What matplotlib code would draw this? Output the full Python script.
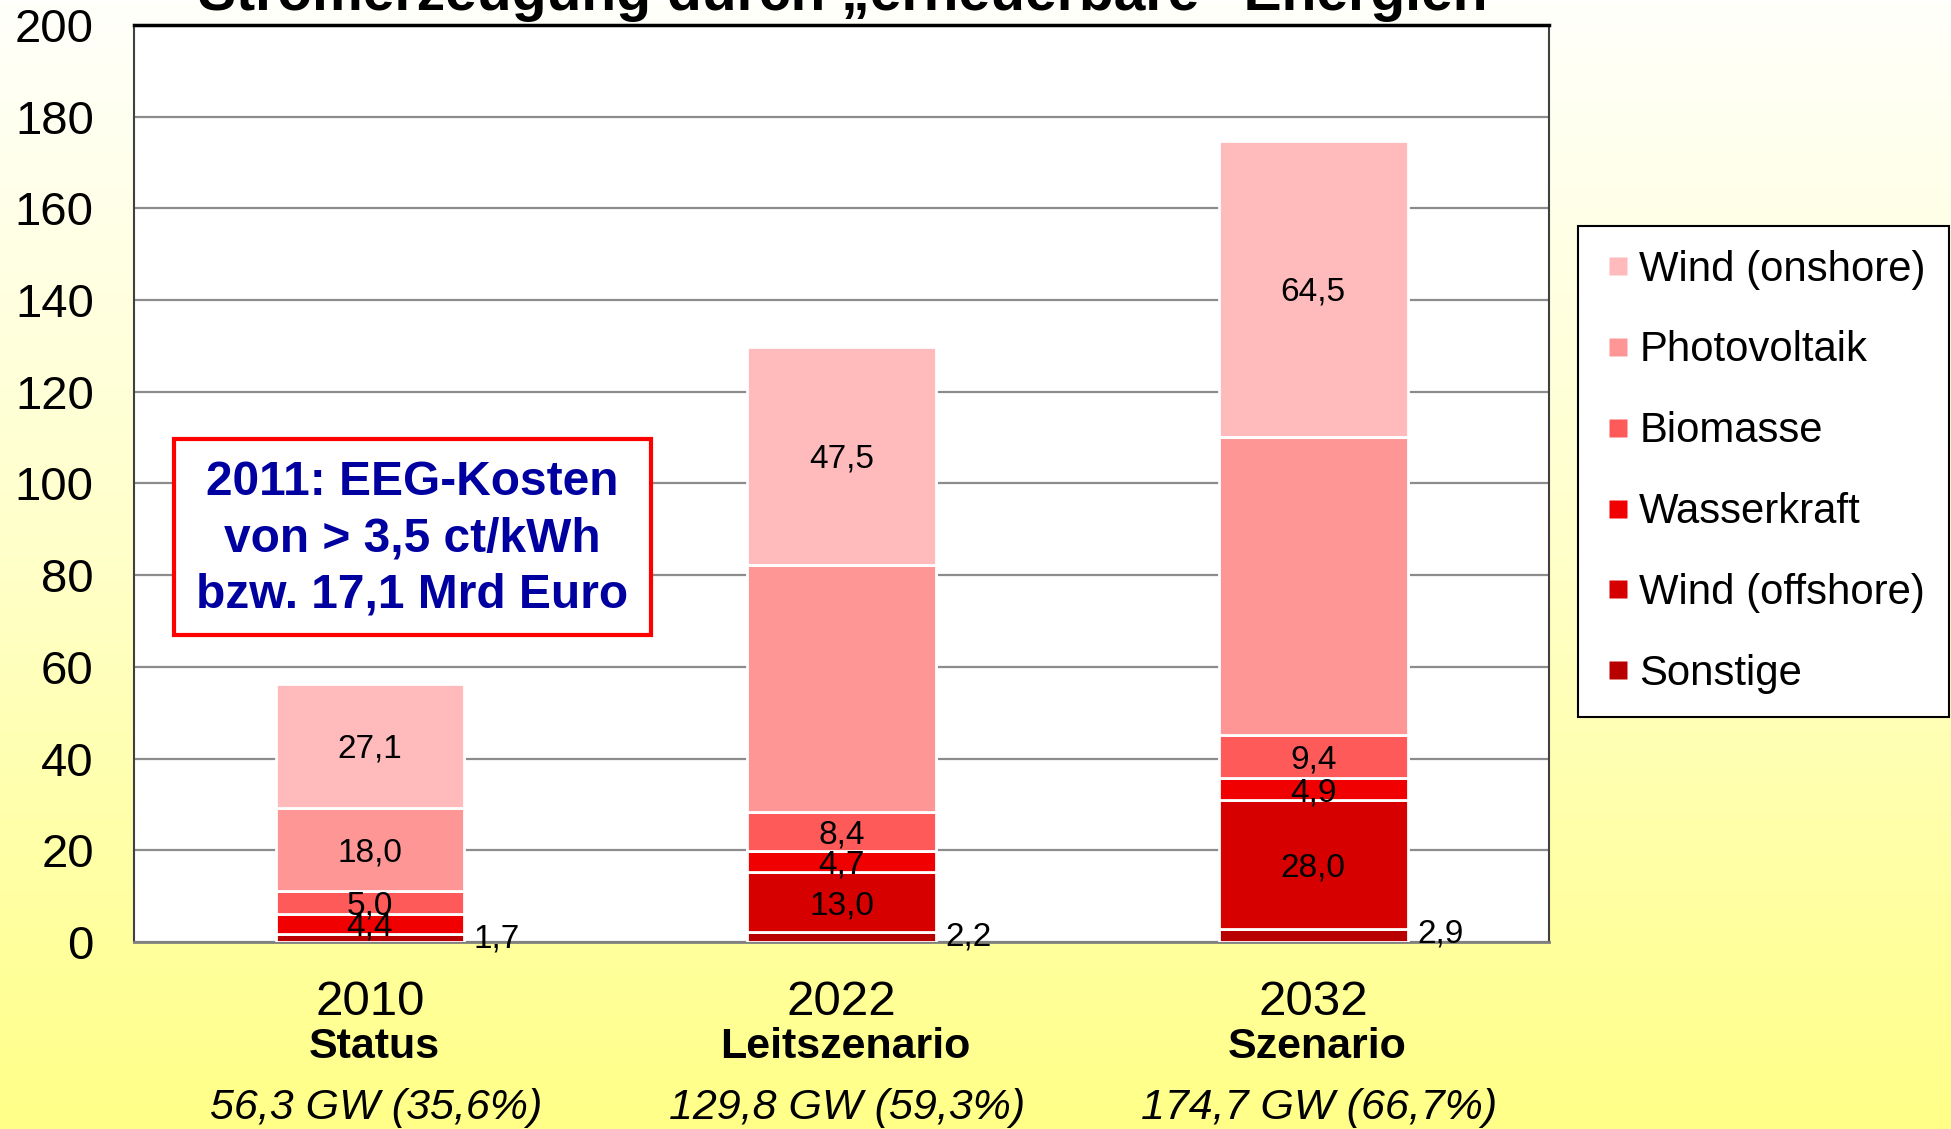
import numpy as np
import matplotlib
matplotlib.use("Agg")
import matplotlib.pyplot as plt
from matplotlib.lines import Line2D
from matplotlib.patches import Rectangle
from matplotlib.colors import LinearSegmentedColormap
import matplotlib.transforms as mtransforms

plt.rcParams['font.family'] = ['Liberation Sans', 'DejaVu Sans']

# ---- data ----
years = ["2010", "2022", "2032"]
scenarios = ["Status", "Leitszenario", "Szenario"]
totals = ["56,3 GW (35,6%)", "129,8 GW (59,3%)", "174,7 GW (66,7%)"]

series = ["Sonstige", "Wind (offshore)", "Wasserkraft", "Biomasse", "Photovoltaik", "Wind (onshore)"]
sonstige = [1.7, 2.2, 2.9]
wind_offshore = [0.1, 13.0, 28.0]
wasserkraft = [4.4, 4.7, 4.9]
biomasse = [5.0, 8.4, 9.4]
photovoltaik = [18.0, 54.0, 65.0]
wind_onshore = [27.1, 47.5, 64.5]
values = [sonstige, wind_offshore, wasserkraft, biomasse, photovoltaik, wind_onshore]
colors = ["#B80000", "#D70000", "#F00000", "#FF5A5A", "#FF9696", "#FFBBBB"]
# which segments get a centered label: series index -> bar indices
labelled = {0: [], 1: [1, 2], 2: [0, 1, 2], 3: [0, 1, 2], 4: [0], 5: [0, 1, 2]}

yticks = [0, 20, 40, 60, 80, 100, 120, 140, 160, 180, 200]

def fmt(v):
    return f"{v:.1f}".replace(".", ",")

fig = plt.figure(figsize=(19.51, 11.29), dpi=100)

# background gradient
bg = fig.add_axes([0, 0, 1, 1], zorder=-10)
cmap = LinearSegmentedColormap.from_list("bgy", ["#FFFFFB", "#FFFFC8", "#FFFF88"])
grad = np.linspace(0, 1, 256).reshape(-1, 1)
bg.imshow(grad, aspect='auto', cmap=cmap, extent=[0, 1, 0, 1], origin='upper')
bg.set_axis_off()

ax = fig.add_axes([0.0687, 0.1656, 0.794 - 0.0687, 0.978 - 0.1656])
ax.set_facecolor("white")
x = np.arange(len(years))
bottom = np.zeros(len(years))
for i, (name, vals, c) in enumerate(zip(series, values, colors)):
    vals = np.array(vals)
    ax.bar(x, vals, width=0.4, bottom=bottom, color=c, edgecolor="white",
           linewidth=2, label=name, zorder=3)
    for j in labelled[i]:
        ax.text(x[j], bottom[j] + vals[j] / 2, fmt(vals[j]), ha='center',
                va='center_baseline', fontsize=24, color='black', zorder=5)
    bottom = bottom + vals

# Sonstige labels to the right of bars
for j in range(len(years)):
    ax.text(x[j] + 0.22, sonstige[j] * 0.85, fmt(sonstige[j]), ha='left',
            va='center_baseline', fontsize=24, color='black', zorder=5)

ax.set_xlim(-0.5, 2.5)
ax.set_ylim(0, 200)
ax.set_yticks(yticks)
ax.set_yticklabels([str(t) for t in yticks], fontsize=34)
ax.tick_params(axis='y', length=0, pad=29)
ax.set_xticks([])
ax.yaxis.grid(True, color="#8C8C8C", linewidth=1.6, zorder=0)
ax.set_axisbelow(True)
for s in ["left", "right"]:
    ax.spines[s].set_color("#404040")
    ax.spines[s].set_linewidth(1.5)
ax.spines["top"].set_color("black")
ax.spines["top"].set_linewidth(2.5)
ax.spines["bottom"].set_color("#808080")
ax.spines["bottom"].set_linewidth(2)

# category labels below
trans = mtransforms.blended_transform_factory(ax.transData, fig.transFigure)
shift_b = trans + mtransforms.ScaledTranslation(4 / 100, 0, fig.dpi_scale_trans)
shift_i = trans + mtransforms.ScaledTranslation(6 / 100, 0, fig.dpi_scale_trans)
for j in range(len(years)):
    ax.text(x[j], 0.1117, years[j], transform=trans, ha='center', va='center', fontsize=35.5)
    ax.text(x[j], 0.0729, scenarios[j], transform=shift_b, ha='center', va='center',
            fontsize=31, fontweight='bold')
    ax.text(x[j], 0.0188, totals[j], transform=shift_i, ha='center', va='center',
            fontsize=31, style='italic')

# annotation box
fig.patches.append(Rectangle((0.0892, 0.4376), 0.2445, 0.1736, transform=fig.transFigure,
                             facecolor='white', edgecolor='#FF0000', linewidth=3, zorder=5))
fig.text(0.2114, 0.5228, "2011: EEG-Kosten\nvon > 3,5 ct/kWh\nbzw. 17,1 Mrd Euro",
         ha='center', va='center', fontsize=34.5, fontweight='bold', color='#0000A0',
         linespacing=1.33, zorder=6)

# title (cut at top)
fig.text(0.432, 1 - 10 / 1129, "Stromerzeugung durch \u201eerneuerbare\u201c Energien",
         ha='center', va='baseline', fontsize=41, fontweight='bold')

# legend
handles = [Line2D([], [], linestyle='none', marker='s', markersize=13,
                  markerfacecolor=c, markeredgecolor='none', label=n)
           for n, c in zip(series, colors)][::-1]
leg = fig.legend(handles=handles, loc='upper left', bbox_to_anchor=(0.8088, 0.7998),
                 fontsize=30.2, frameon=True, fancybox=False, borderpad=0.56,
                 labelspacing=0.975, handlelength=0.81, handletextpad=0.09,
                 borderaxespad=0)
leg.get_frame().set_edgecolor('black')
leg.get_frame().set_linewidth(1.5)
leg.get_frame().set_alpha(1)

fig.savefig("out.png", dpi=100)
